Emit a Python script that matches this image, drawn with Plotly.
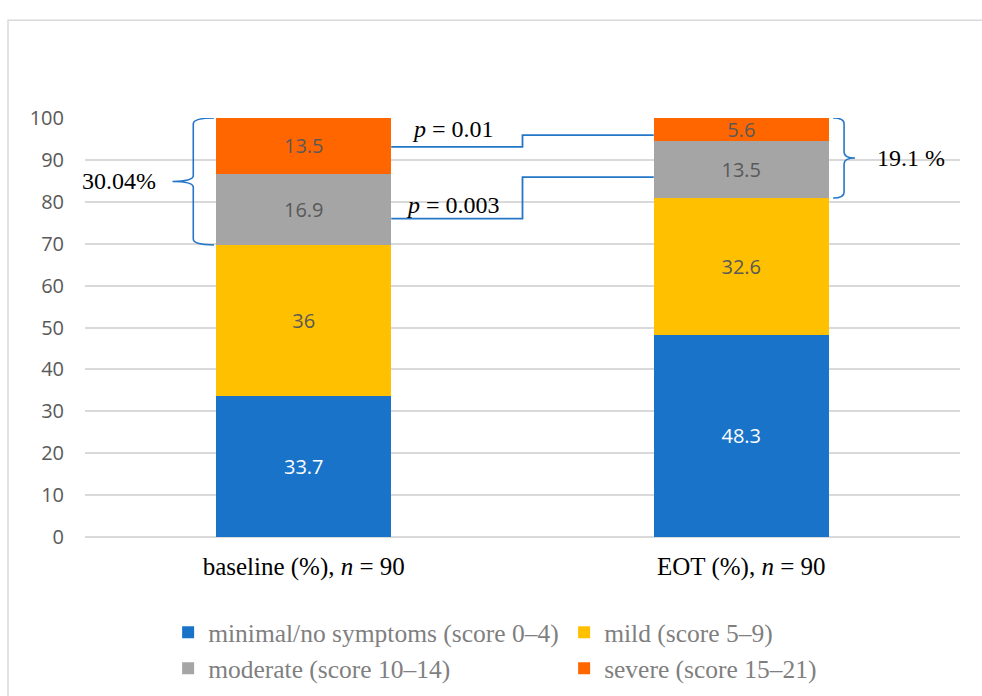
import plotly.graph_objects as go

# Share of patients per symptom-severity band, baseline vs end of treatment
categories = ["baseline", "EOT"]
category_labels = ["baseline (%), <i>n</i> = 90", "EOT (%), <i>n</i> = 90"]
series_names = [
    "minimal/no symptoms (score 0–4)",
    "mild (score 5–9)",
    "moderate (score 10–14)",
    "severe (score 15–21)",
]
minimal_vals = [33.7, 48.3]
mild_vals = [36, 32.6]
moderate_vals = [16.9, 13.5]
severe_vals = [13.5, 5.6]

# moderate + severe share at each time point (shown next to the braces)
brace_labels = ["30.04%", "19.1 %"]
# p-value notes and the heights where their connector lines leave/enter the bars
p_labels = ["<i>p</i> = 0.01", "<i>p</i> = 0.003"]
p_connector_levels = [(93.1, 95.9), (76.0, 85.9)]

colors = ["#1873C9", "#FFC000", "#A5A5A5", "#FF6600"]
label_colors = ["white", "#595959", "#595959", "#595959"]
line_blue = "#2576C8"
serif = "Liberation Serif"
sans = "Open Sans"

xpos = [0, 1]
bar_w = 0.4

fig = go.Figure()
for name, vals, col, tcol in zip(
    series_names, [minimal_vals, mild_vals, moderate_vals, severe_vals], colors, label_colors
):
    fig.add_trace(
        go.Bar(
            x=xpos,
            y=vals,
            name=name,
            width=bar_w,
            marker=dict(color=col, line=dict(width=0)),
            text=[f"{v:g}" for v in vals],
            textposition="inside",
            insidetextanchor="middle",
            textangle=0,
            constraintext="none",
            textfont=dict(family=sans, size=20, color=tcol),
            hoverinfo="skip",
        )
    )

# top of the mild band = start of the moderate+severe group
base_top_mild = minimal_vals[0] + mild_vals[0]
eot_top_mild = minimal_vals[1] + mild_vals[1]


def brace_path(x_hook, x_spine, x_tip, y_top, y_bot, r=1.4):
    y_mid = (y_top + y_bot) / 2
    return (
        f"M {x_hook},{y_top} Q {x_spine},{y_top} {x_spine},{y_top - r} "
        f"L {x_spine},{y_mid + r} Q {x_spine},{y_mid} {x_tip},{y_mid} "
        f"Q {x_spine},{y_mid} {x_spine},{y_mid - r} "
        f"L {x_spine},{y_bot + r} Q {x_spine},{y_bot} {x_hook},{y_bot}"
    )


shapes = []
# left brace around baseline moderate+severe
shapes.append(dict(
    type="path", xref="x", yref="y",
    path=brace_path(xpos[0] - 0.205, xpos[0] - 0.2525, xpos[0] - 0.30, 100, base_top_mild),
    line=dict(color=line_blue, width=1.6),
))
# right brace around EOT moderate+severe
shapes.append(dict(
    type="path", xref="x", yref="y",
    path=brace_path(xpos[1] + 0.21, xpos[1] + 0.235, xpos[1] + 0.26, 100, eot_top_mild),
    line=dict(color=line_blue, width=1.6),
))
# stepped connectors between the two bars
x_step = (xpos[0] + xpos[1]) / 2
for y_lo, y_hi in p_connector_levels:
    shapes.append(dict(
        type="path", xref="x", yref="y",
        path=(f"M {xpos[0] + bar_w / 2},{y_lo} L {x_step},{y_lo} "
              f"L {x_step},{y_hi} L {xpos[1] - bar_w / 2},{y_hi}"),
        line=dict(color=line_blue, width=1.8),
    ))
# outer chart frame
shapes.append(dict(
    type="rect", xref="paper", yref="paper",
    x0=-0.088, x1=1.3, y0=-0.6, y1=1.233,
    line=dict(color="#D9D9D9", width=1.5), layer="below",
))

annotations = [
    dict(x=xpos[0] - 0.333, y=(100 + base_top_mild) / 2, xref="x", yref="y",
         text=brace_labels[0], showarrow=False, xanchor="right", yanchor="middle",
         font=dict(family=serif, size=24, color="black")),
    dict(x=xpos[1] + 0.306, y=(100 + eot_top_mild) / 2, xref="x", yref="y",
         text=brace_labels[1], showarrow=False, xanchor="left", yanchor="middle",
         font=dict(family=serif, size=24, color="black")),
    dict(x=0.34, y=97.3, xref="x", yref="y", text=p_labels[0], showarrow=False,
         xanchor="center", yanchor="middle", font=dict(family=serif, size=24, color="black")),
    dict(x=0.342, y=79.3, xref="x", yref="y", text=p_labels[1], showarrow=False,
         xanchor="center", yanchor="middle", font=dict(family=serif, size=24, color="black")),
]

fig.update_layout(
    width=982,
    height=696,
    barmode="stack",
    plot_bgcolor="white",
    paper_bgcolor="white",
    margin=dict(l=85, r=22, t=118, b=159, autoexpand=False),
    shapes=shapes,
    annotations=annotations,
    showlegend=True,
    legend=dict(
        orientation="h",
        x=0.095, xanchor="left",
        y=-0.172, yanchor="top",
        entrywidth=351, entrywidthmode="pixels",
        font=dict(family=serif, size=25.5, color="#7F7F7F"),
        traceorder="normal",
        bgcolor="rgba(0,0,0,0)",
    ),
    xaxis=dict(
        range=[-0.5, 1.5],
        tickvals=xpos,
        ticktext=category_labels,
        showgrid=False,
        zeroline=False,
        showline=False,
        ticks="",
        ticklabelstandoff=12,
        tickfont=dict(family=serif, size=25, color="black"),
        fixedrange=True,
    ),
    yaxis=dict(
        range=[0, 100],
        dtick=10,
        showgrid=True,
        gridcolor="#D9D9D9",
        gridwidth=1.5,
        zeroline=True,
        zerolinecolor="#D9D9D9",
        zerolinewidth=1.5,
        showline=False,
        ticks="",
        ticklabelstandoff=20,
        tickfont=dict(family=sans, size=20, color="#595959"),
        fixedrange=True,
    ),
)

fig.write_html("out.html")
